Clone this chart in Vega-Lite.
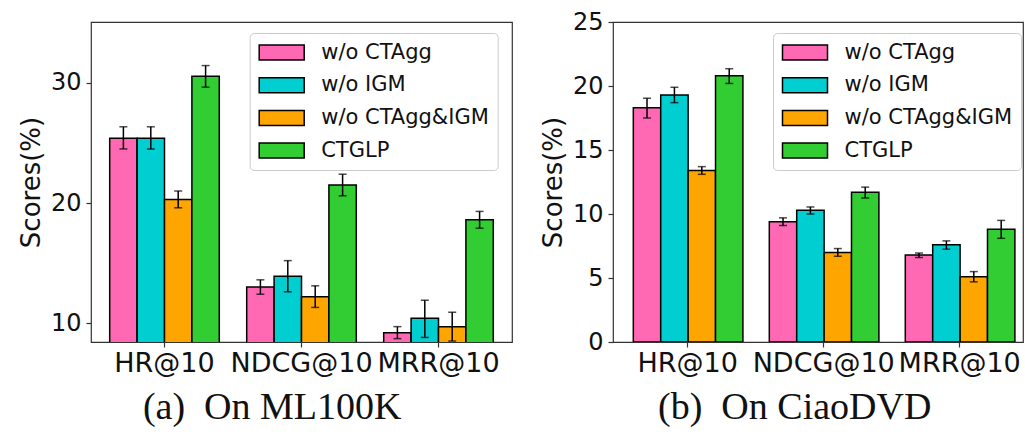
{
  "$schema": "https://vega.github.io/schema/vega-lite/v6.json",
  "padding": {"left": 17, "top": 9, "right": 0, "bottom": 0},
  "background": "white",
  "spacing": 26,
  "datasets": {
    "ml": [
      {"metric": "HR@10", "variant": "w/o CTAgg", "value": 25.4, "lo": 24.5, "hi": 26.35},
      {"metric": "HR@10", "variant": "w/o IGM", "value": 25.4, "lo": 24.5, "hi": 26.35},
      {"metric": "HR@10", "variant": "w/o CTAgg&IGM", "value": 20.3, "lo": 19.6, "hi": 21.0},
      {"metric": "HR@10", "variant": "CTGLP", "value": 30.55, "lo": 29.65, "hi": 31.45},
      {"metric": "NDCG@10", "variant": "w/o CTAgg", "value": 13.0, "lo": 12.4, "hi": 13.6},
      {"metric": "NDCG@10", "variant": "w/o IGM", "value": 13.9, "lo": 12.6, "hi": 15.2},
      {"metric": "NDCG@10", "variant": "w/o CTAgg&IGM", "value": 12.2, "lo": 11.3, "hi": 13.1},
      {"metric": "NDCG@10", "variant": "CTGLP", "value": 21.5, "lo": 20.6, "hi": 22.4},
      {"metric": "MRR@10", "variant": "w/o CTAgg", "value": 9.2, "lo": 8.7, "hi": 9.7},
      {"metric": "MRR@10", "variant": "w/o IGM", "value": 10.4, "lo": 8.8, "hi": 11.9},
      {"metric": "MRR@10", "variant": "w/o CTAgg&IGM", "value": 9.7, "lo": 8.5, "hi": 10.9},
      {"metric": "MRR@10", "variant": "CTGLP", "value": 18.6, "lo": 17.9, "hi": 19.3}
    ],
    "ciao": [
      {"metric": "HR@10", "variant": "w/o CTAgg", "value": 18.3, "lo": 17.5, "hi": 19.05},
      {"metric": "HR@10", "variant": "w/o IGM", "value": 19.3, "lo": 18.7, "hi": 19.9},
      {"metric": "HR@10", "variant": "w/o CTAgg&IGM", "value": 13.4, "lo": 13.1, "hi": 13.7},
      {"metric": "HR@10", "variant": "CTGLP", "value": 20.8, "lo": 20.2, "hi": 21.35},
      {"metric": "NDCG@10", "variant": "w/o CTAgg", "value": 9.4, "lo": 9.1, "hi": 9.7},
      {"metric": "NDCG@10", "variant": "w/o IGM", "value": 10.3, "lo": 10.0, "hi": 10.55},
      {"metric": "NDCG@10", "variant": "w/o CTAgg&IGM", "value": 7.0, "lo": 6.7, "hi": 7.3},
      {"metric": "NDCG@10", "variant": "CTGLP", "value": 11.7, "lo": 11.25, "hi": 12.1},
      {"metric": "MRR@10", "variant": "w/o CTAgg", "value": 6.8, "lo": 6.6, "hi": 6.95},
      {"metric": "MRR@10", "variant": "w/o IGM", "value": 7.6, "lo": 7.25, "hi": 7.9},
      {"metric": "MRR@10", "variant": "w/o CTAgg&IGM", "value": 5.1, "lo": 4.7, "hi": 5.5},
      {"metric": "MRR@10", "variant": "CTGLP", "value": 8.8, "lo": 8.1, "hi": 9.5}
    ]
  },
  "config": {
    "font": "DejaVu Sans",
    "view": {"stroke": "#333333", "strokeWidth": 1.2},
    "axis": {
      "domain": false,
      "grid": false,
      "tickColor": "#333333",
      "tickWidth": 1.2,
      "tickSize": 5,
      "labelColor": "#111111",
      "titleColor": "#111111",
      "labelFont": "DejaVu Sans",
      "titleFont": "DejaVu Sans",
      "titleFontWeight": "normal"
    },
    "legend": {
      "orient": "none",
      "fillColor": "white",
      "strokeColor": "#cccccc",
      "cornerRadius": 4,
      "padding": 8.5,
      "labelFont": "DejaVu Sans",
      "labelFontSize": 21,
      "labelColor": "#111111",
      "labelLimit": 400,
      "labelOffset": 41,
      "rowPadding": 10.7,
      "symbolType": "M-1,-0.75H3.5V0.75H-1Z",
      "symbolSize": 400,
      "symbolStrokeColor": "black",
      "symbolStrokeWidth": 1.5,
      "symbolOpacity": 1
    },
    "title": {
      "font": "Liberation Serif",
      "fontSize": 38,
      "fontWeight": "normal",
      "color": "#111111",
      "orient": "bottom",
      "anchor": "middle",
      "frame": "bounds",
      "offset": 13
    }
  },
  "resolve": {
    "scale": {"y": "independent", "x": "independent", "color": "independent"},
    "legend": {"color": "independent"}
  },
  "hconcat": [
    {
      "width": 421,
      "height": 320,
      "data": {"name": "ml"},
      "title": {"text": "(a)\u00a0 On ML100K", "dx": 7},
      "encoding": {
        "x": {
          "field": "metric", "type": "nominal",
          "sort": ["HR@10", "NDCG@10", "MRR@10"],
          "scale": {"paddingInner": 0.2, "paddingOuter": 0.1365},
          "axis": {"title": null, "labelAngle": 0, "labelFontSize": 27, "labelPadding": 3, "labelOverlap": false}
        },
        "xOffset": {
          "field": "variant", "type": "nominal",
          "sort": ["w/o CTAgg", "w/o IGM", "w/o CTAgg&IGM", "CTGLP"],
          "scale": {"paddingInner": 0, "paddingOuter": 0}
        }
      },
      "layer": [
        {
          "mark": {"type": "bar", "stroke": "black", "strokeWidth": 1.5, "clip": true, "opacity": 1},
          "encoding": {
            "y": {
              "field": "value", "type": "quantitative",
              "scale": {"domain": [8.42, 35.08], "nice": false, "zero": false},
              "axis": {"values": [10, 20, 30], "title": "Scores(%)", "titleFontSize": 26, "titlePadding": 6, "labelFontSize": 24, "labelPadding": 5}
            },
            "color": {
              "field": "variant", "type": "nominal",
              "sort": ["w/o CTAgg", "w/o IGM", "w/o CTAgg&IGM", "CTGLP"],
              "scale": {"domain": ["w/o CTAgg", "w/o IGM", "w/o CTAgg&IGM", "CTGLP"], "range": ["#ff69b4", "#00ced1", "#ffa500", "#32cd32"]},
              "legend": {"title": null, "legendX": 158.7, "legendY": 11}
            }
          }
        },
        {
          "mark": {"type": "rule", "color": "black", "strokeWidth": 1.5},
          "encoding": {"y": {"field": "lo", "type": "quantitative"}, "y2": {"field": "hi"}}
        },
        {
          "mark": {"type": "tick", "color": "black", "thickness": 1.5, "size": 8},
          "encoding": {"y": {"field": "lo", "type": "quantitative"}}
        },
        {
          "mark": {"type": "tick", "color": "black", "thickness": 1.5, "size": 8},
          "encoding": {"y": {"field": "hi", "type": "quantitative"}}
        }
      ]
    },
    {
      "width": 410,
      "height": 320,
      "data": {"name": "ciao"},
      "title": {"text": "(b)\u00a0 On CiaoDVD", "dx": 13},
      "encoding": {
        "x": {
          "field": "metric", "type": "nominal",
          "sort": ["HR@10", "NDCG@10", "MRR@10"],
          "scale": {"paddingInner": 0.2, "paddingOuter": 0.1075, "align": 0.695},
          "axis": {"title": null, "labelAngle": 0, "labelFontSize": 27, "labelPadding": 3, "labelOverlap": false}
        },
        "xOffset": {
          "field": "variant", "type": "nominal",
          "sort": ["w/o CTAgg", "w/o IGM", "w/o CTAgg&IGM", "CTGLP"],
          "scale": {"paddingInner": 0, "paddingOuter": 0}
        }
      },
      "layer": [
        {
          "mark": {"type": "bar", "stroke": "black", "strokeWidth": 1.5, "clip": true, "opacity": 1},
          "encoding": {
            "y": {
              "field": "value", "type": "quantitative",
              "scale": {"domain": [0, 25], "nice": false, "zero": false},
              "axis": {"values": [0, 5, 10, 15, 20, 25], "title": "Scores(%)", "titleFontSize": 26, "titlePadding": 6, "labelFontSize": 24, "labelPadding": 5}
            },
            "color": {
              "field": "variant", "type": "nominal",
              "sort": ["w/o CTAgg", "w/o IGM", "w/o CTAgg&IGM", "CTGLP"],
              "scale": {"domain": ["w/o CTAgg", "w/o IGM", "w/o CTAgg&IGM", "CTGLP"], "range": ["#ff69b4", "#00ced1", "#ffa500", "#32cd32"]},
              "legend": {"title": null, "legendX": 160, "legendY": 11}
            }
          }
        },
        {
          "mark": {"type": "rule", "color": "black", "strokeWidth": 1.5},
          "encoding": {"y": {"field": "lo", "type": "quantitative"}, "y2": {"field": "hi"}}
        },
        {
          "mark": {"type": "tick", "color": "black", "thickness": 1.5, "size": 8},
          "encoding": {"y": {"field": "lo", "type": "quantitative"}}
        },
        {
          "mark": {"type": "tick", "color": "black", "thickness": 1.5, "size": 8},
          "encoding": {"y": {"field": "hi", "type": "quantitative"}}
        }
      ]
    }
  ]
}
